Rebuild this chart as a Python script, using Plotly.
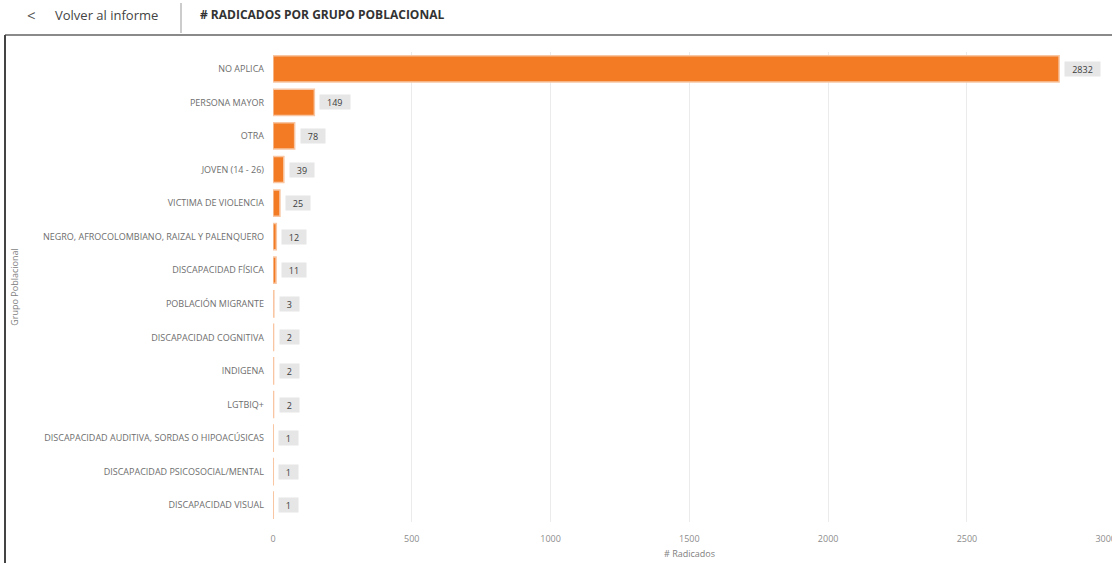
import plotly.graph_objects as go

categories = [
    "NO APLICA", "PERSONA MAYOR", "OTRA", "JOVEN (14 - 26)", "VICTIMA DE VIOLENCIA",
    "NEGRO, AFROCOLOMBIANO, RAIZAL Y PALENQUERO", "DISCAPACIDAD FÍSICA",
    "POBLACIÓN MIGRANTE", "DISCAPACIDAD COGNITIVA", "INDIGENA", "LGTBIQ+",
    "DISCAPACIDAD AUDITIVA, SORDAS O HIPOACÚSICAS", "DISCAPACIDAD PSICOSOCIAL/MENTAL",
    "DISCAPACIDAD VISUAL",
]
values = [2832, 149, 78, 39, 25, 12, 11, 3, 2, 2, 2, 1, 1, 1]
x_ticks = [0, 500, 1000, 1500, 2000, 2500, 3000]

W, H = 1112, 563
L, R, T, B = 273, 6, 52, 41
PW, PH = W - L - R, H - T - B

def px(xp):
    return (xp - L) / PW

def py(yp):
    return (H - B - yp) / PH

BAR = "#F27B24"
EDGE = "#F8C6A2"

fig = go.Figure()
fig.add_trace(go.Bar(
    x=values, y=categories, orientation="h",
    marker=dict(color=BAR, line=dict(width=1.5, color=EDGE)),
    hoverinfo="skip",
))

font = "Open Sans, Noto Sans, sans-serif"
annotations = []
for c, v in zip(categories, values):
    s = str(v)
    annotations.append(dict(
        x=v, y=c, xref="x", yref="y", text=s, showarrow=False,
        xanchor="left", xshift=5, yanchor="middle",
        bgcolor="#E6E6E6", borderpad=1, width=11 + 5.5 * len(s), height=12,
        font=dict(family=font, size=9, color="#3C3C3C"),
    ))

# header
annotations += [
    dict(text="&lt;", x=px(31), y=py(15), xref="paper", yref="paper", showarrow=False,
         xanchor="center", yanchor="middle", font=dict(family=font, size=15, color="#555555")),
    dict(text="Volver al informe", x=px(53), y=py(15), xref="paper", yref="paper", showarrow=False,
         xanchor="left", yanchor="middle", font=dict(family=font, size=13, color="#444444")),
    dict(text="<b># RADICADOS POR GRUPO POBLACIONAL</b>", x=px(198), y=py(14), xref="paper", yref="paper",
         showarrow=False, xanchor="left", yanchor="middle",
         font=dict(family=font, size=12, color="#333333")),
]

shapes = [
    dict(type="line", xref="paper", yref="paper", x0=px(181), x1=px(181), y0=py(3), y1=py(33),
         line=dict(color="#999999", width=1)),
    dict(type="line", xref="paper", yref="paper", x0=px(5), x1=px(1112), y0=py(35), y1=py(35),
         line=dict(color="#8A8A8A", width=2)),
    dict(type="line", xref="paper", yref="paper", x0=px(5), x1=px(5), y0=py(35), y1=py(563),
         line=dict(color="#444444", width=2)),
]

fig.update_layout(
    width=W, height=H,
    margin=dict(l=L, r=R, t=T, b=B, pad=0, autoexpand=False),
    paper_bgcolor="white", plot_bgcolor="white",
    showlegend=False, bargap=0.22,
    font=dict(family=font, size=9, color="#777777"),
    annotations=annotations, shapes=shapes,
    xaxis=dict(
        range=[0, 3001], tickvals=x_ticks, ticktext=[str(t) for t in x_ticks],
        showgrid=True, gridcolor="#EBEBEB", gridwidth=1, zeroline=False,
        showline=False, ticks="", tickfont=dict(size=9, color="#8C8C8C"),
        ticklabelstandoff=10, ticklabeloverflow="allow", automargin=False,
        title=dict(text="# Radicados", font=dict(size=9, color="#808080"), standoff=6),
        fixedrange=True,
    ),
    yaxis=dict(
        autorange="reversed", showgrid=False, zeroline=False, showline=False, ticks="",
        ticklabelstandoff=8, automargin=False,
        tickfont=dict(size=9, color="#6E6E6E"),
        title=dict(text="Grupo Poblacional", font=dict(size=9, color="#808080"), standoff=22),
        fixedrange=True,
    ),
)

fig.write_html("out.html", config={"displayModeBar": False},
               post_script="document.body.style.margin='0';")
